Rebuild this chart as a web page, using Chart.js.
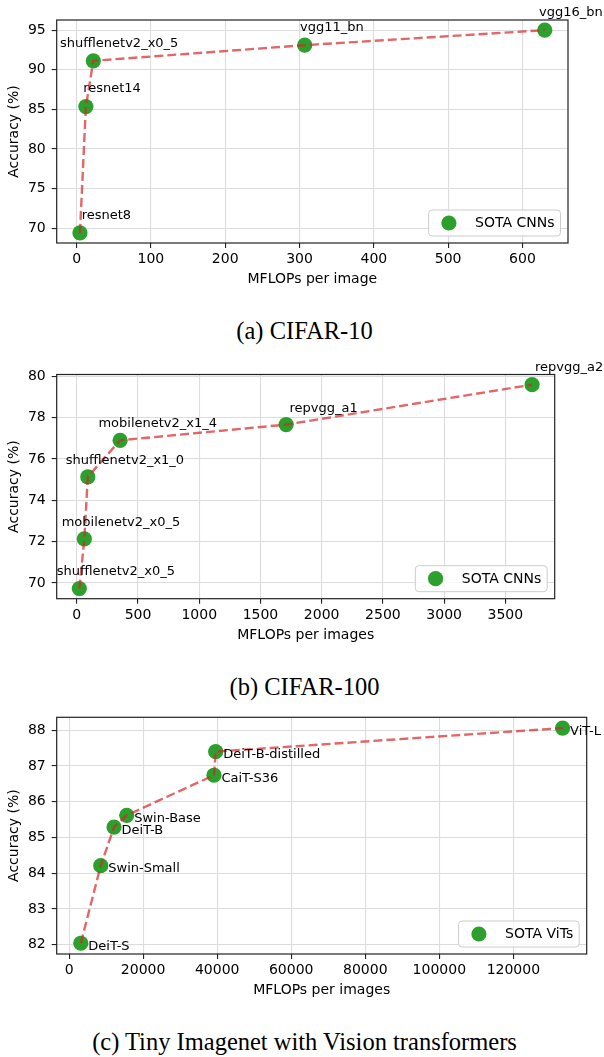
<!DOCTYPE html>
<html>
<head>
<meta charset="utf-8">
<script src="https://cdn.jsdelivr.net/npm/chart.js@4.4.1/dist/chart.umd.min.js"></script>
<style>
html,body{margin:0;padding:0;background:#fff;}
body{width:604px;height:1057px;position:relative;overflow:hidden;}
canvas{position:absolute;left:0;}
.cap{position:absolute;left:0;width:604px;padding-left:5px;box-sizing:border-box;text-align:center;
 font-family:"Liberation Serif","Times New Roman",serif;font-size:24.5px;line-height:24px;color:#000;white-space:nowrap;}
</style>
</head>
<body>
<canvas id="c1" width="604" height="300" style="top:0px"></canvas>
<div class="cap" style="top:319px">(a) CIFAR-10</div>
<canvas id="c2" width="604" height="300" style="top:355px"></canvas>
<div class="cap" style="top:675px">(b) CIFAR-100</div>
<canvas id="c3" width="604" height="300" style="top:705px"></canvas>
<div class="cap" style="top:1030px">(c) Tiny Imagenet with Vision transformers</div>
<script>
// ---------------- DATA ----------------
// (a) CIFAR-10
const cifar10Models   = ['resnet8', 'resnet14', 'shufflenetv2_x0_5', 'vgg11_bn', 'vgg16_bn'];
const cifar10Mflops   = [4.5, 12.5, 22.5, 307, 630];
const cifar10Accuracy = [69.4, 85.35, 91.13, 93.1, 95.0];
const cifar10XTicks   = [0, 100, 200, 300, 400, 500, 600];
const cifar10XTickLabels = ['0', '100', '200', '300', '400', '500', '600'];
const cifar10YTicks   = [70, 75, 80, 85, 90, 95];
const cifar10YTickLabels = ['70', '75', '80', '85', '90', '95'];

// (b) CIFAR-100
const cifar100Models   = ['shufflenetv2_x0_5', 'mobilenetv2_x0_5', 'shufflenetv2_x1_0', 'mobilenetv2_x1_4', 'repvgg_a1', 'repvgg_a2'];
const cifar100Mflops   = [21, 62, 90, 354, 1710, 3718];
const cifar100Accuracy = [69.73, 72.13, 75.13, 76.9, 77.66, 79.59];
const cifar100XTicks   = [0, 500, 1000, 1500, 2000, 2500, 3000, 3500];
const cifar100XTickLabels = ['0', '500', '1000', '1500', '2000', '2500', '3000', '3500'];
const cifar100YTicks   = [70, 72, 74, 76, 78, 80];
const cifar100YTickLabels = ['70', '72', '74', '76', '78', '80'];

// (c) Tiny Imagenet with ViTs
const vitModels   = ['DeiT-S', 'Swin-Small', 'DeiT-B', 'Swin-Base', 'CaiT-S36', 'DeiT-B-distilled', 'ViT-L'];
const vitMflops   = [3160, 8550, 12140, 15570, 39130, 39590, 133300];
const vitAccuracy = [82.04, 84.21, 85.29, 85.62, 86.74, 87.40, 88.06];
const vitXTicks   = [0, 20000, 40000, 60000, 80000, 100000, 120000];
const vitXTickLabels = ['0', '20000', '40000', '60000', '80000', '100000', '120000'];
const vitYTicks   = [82, 83, 84, 85, 86, 87, 88];
const vitYTickLabels = ['82', '83', '84', '85', '86', '87', '88'];

// ---------------- STYLE ----------------
const FONT = '"DejaVu Sans", "Liberation Sans", sans-serif';
const GREEN = '#2ca02c';
const LINE = 'rgba(214,39,40,0.7)';
const GRID = '#dcdcdc';
const SPINE = '#222222';
Chart.defaults.font.family = FONT;
Chart.defaults.color = '#000';

function makePlugins(names, dx, dy, legendText) {
  return [{
    id: 'extras',
    afterDatasetsDraw(chart) {
      const ctx = chart.ctx, ca = chart.chartArea;
      ctx.save();
      // frame (all four spines)
      ctx.strokeStyle = SPINE; ctx.lineWidth = 1.2;
      ctx.strokeRect(ca.left, ca.top, ca.right - ca.left, ca.bottom - ca.top);
      // point annotations
      const meta = chart.getDatasetMeta(1);
      ctx.font = '13px ' + FONT;
      ctx.fillStyle = '#000';
      ctx.textAlign = 'left'; ctx.textBaseline = 'middle';
      names.forEach((t, i) => {
        const p = meta.data[i];
        ctx.fillText(t, p.x + dx[i], p.y + dy[i]);
      });
      // legend
      ctx.font = '14px ' + FONT;
      const w = ctx.measureText(legendText).width;
      const h = 26;
      const right = ca.right - 7.5, bottom = ca.bottom - 7;
      const left = right - w - 6 - 46.5, top = bottom - h;
      ctx.beginPath();
      ctx.roundRect(left, top, right - left, h, 3.5);
      ctx.fillStyle = 'rgba(255,255,255,0.8)'; ctx.fill();
      ctx.strokeStyle = '#cccccc'; ctx.lineWidth = 1; ctx.stroke();
      ctx.beginPath();
      ctx.arc(left + 20.3, top + h / 2, 7.6, 0, Math.PI * 2);
      ctx.fillStyle = GREEN; ctx.fill();
      ctx.fillStyle = '#000';
      ctx.fillText(legendText, left + 46.5, top + h / 2 + 0.5);
      ctx.restore();
    }
  }];
}

function range(vals) {
  const lo = Math.min(...vals), hi = Math.max(...vals), m = (hi - lo) * 0.05;
  return [lo - m, hi + m];
}

function makeChart(id, c) {
  const pts = c.x.map((v, i) => ({x: v, y: c.y[i]}));
  const [xmin, xmax] = range(c.x);
  const [ymin, ymax] = range(c.y);
  const zeroPad = s => { s.paddingLeft = 0; s.paddingRight = 0; s.paddingTop = 0; s.paddingBottom = 0; };
  new Chart(document.getElementById(id), {
    type: 'scatter',
    data: {
      datasets: [
        {label: 'trend', data: pts, showLine: true, borderColor: LINE, borderWidth: 2.4,
         borderDash: [9, 4], pointRadius: 0, pointHoverRadius: 0, fill: false, tension: 0, order: 0},
        {label: c.legend, data: pts, backgroundColor: GREEN, borderWidth: 0,
         pointRadius: 7.6, pointHoverRadius: 7.6, order: 1}
      ]
    },
    options: {
      responsive: false, animation: false, devicePixelRatio: 1,
      layout: {padding: {top: c.padTop, right: c.padRight, left: 0, bottom: 0}},
      plugins: {legend: {display: false}, tooltip: {enabled: false}},
      scales: {
        x: {
          type: 'linear', min: xmin, max: xmax,
          afterBuildTicks: ax => { ax.ticks = c.xTicks.map(v => ({value: v})); },
          afterFit: s => { s.height = c.xHeight; zeroPad(s); },
          ticks: {autoSkip: false, maxRotation: 0, padding: 3.3, font: {size: 14}, color: '#000',
                  callback: (v, i) => c.xTickLabels[i]},
          grid: {color: GRID, lineWidth: 1.1, tickLength: 5, tickColor: SPINE, tickWidth: 1.1},
          border: {display: false},
          title: {display: true, text: c.xTitle, font: {size: 14}, color: '#000',
                  padding: {top: 0, bottom: c.xTitlePad}}
        },
        y: {
          type: 'linear', min: ymin, max: ymax,
          afterBuildTicks: ax => { ax.ticks = c.yTicks.map(v => ({value: v})); },
          afterFit: s => { s.width = 56.7; zeroPad(s); },
          ticks: {autoSkip: false, padding: 6, font: {size: 14}, color: '#000',
                  callback: (v, i) => c.yTickLabels[i]},
          grid: {color: GRID, lineWidth: 1.1, tickLength: 5, tickColor: SPINE, tickWidth: 1.1},
          border: {display: false},
          title: {display: true, text: 'Accuracy (%)', font: {size: 14}, color: '#000',
                  padding: {top: 5.6, bottom: 0}}
        }
      }
    },
    plugins: makePlugins(c.names, c.dx, c.dy, c.legend)
  });
}

makeChart('c1', {
  names: cifar10Models, x: cifar10Mflops, y: cifar10Accuracy,
  xTicks: cifar10XTicks, xTickLabels: cifar10XTickLabels, yTicks: cifar10YTicks, yTickLabels: cifar10YTickLabels,
  legend: 'SOTA CNNs', xTitle: 'MFLOPs per image',
  dx: [1.7, -2.7, -33.3, -4.7, -5.7], dy: [-17.6, -17.7, -17.4, -17.3, -17.3],
  padTop: 20, padRight: 36, xHeight: 57, xTitlePad: 12.6
});
makeChart('c2', {
  names: cifar100Models, x: cifar100Mflops, y: cifar100Accuracy,
  xTicks: cifar100XTicks, xTickLabels: cifar100XTickLabels, yTicks: cifar100YTicks, yTickLabels: cifar100YTickLabels,
  legend: 'SOTA CNNs', xTitle: 'MFLOPs per images',
  dx: [-22.7, -22.7, -22, -21.7, 3.3, 3], dy: [-16.4, -16.3, -16.7, -16.7, -16, -16.6],
  padTop: 19.5, padRight: 49.3, xHeight: 56.3, xTitlePad: 11.6
});
makeChart('c3', {
  names: vitModels, x: vitMflops, y: vitAccuracy,
  xTicks: vitXTicks, xTickLabels: vitXTickLabels, yTicks: vitYTicks, yTickLabels: vitYTickLabels,
  legend: 'SOTA ViTs', xTitle: 'MFLOPs per images',
  dx: [7.5, 7.5, 7.5, 7.5, 7.5, 7.5, 7.5], dy: [3.2, 3.2, 3.2, 3.2, 3.2, 3.2, 3.2],
  padTop: 12.3, padRight: 17.3, xHeight: 51, xTitlePad: 5.9
});
</script>
</body>
</html>
